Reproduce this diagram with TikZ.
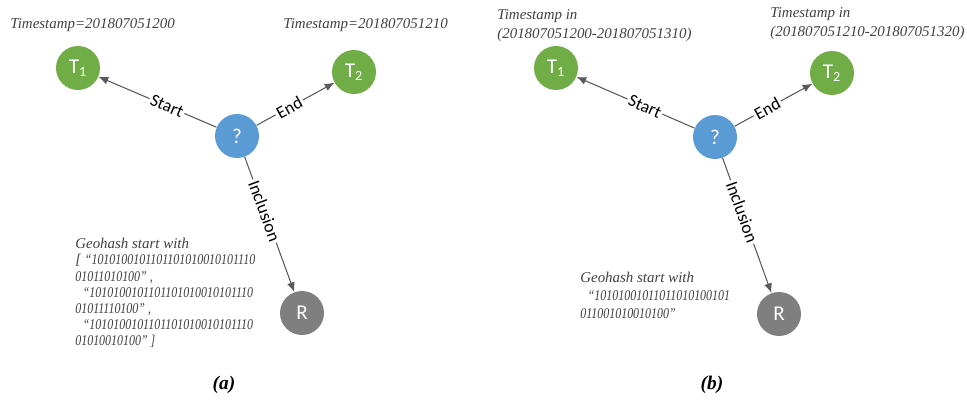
\documentclass[tikz,border=0pt]{standalone}
\usepackage{fontspec}
\setmainfont{Liberation Serif}
\setsansfont{Carlito}
\newfontfamily\narrowserif[FakeStretch=0.8]{Liberation Serif}
\usetikzlibrary{positioning}
\usetikzlibrary{arrows.meta}

\definecolor{nodegreen}{HTML}{70AD47}
\definecolor{nodeblue}{HTML}{5B9BD5}
\definecolor{nodegray}{HTML}{7F7F7F}
\definecolor{edgegray}{HTML}{595959}
\definecolor{notegray}{HTML}{404040}

\begin{document}
\begin{tikzpicture}[x=0.02cm,y=-0.02cm,
    vertex/.style={circle,minimum size=0.88cm,inner sep=0pt,text=white,font=\sffamily\fontsize{12}{12}\selectfont},
    link/.style={draw=edgegray,line width=0.6pt,-{Latex[length=5.5pt,width=4.5pt]}},
    rel/.style={sloped,fill=white,inner sep=1pt,text=black,font=\sffamily\fontsize{10}{10}\selectfont},
    note/.style={inner sep=0pt,align=left,text=notegray,font=\itshape\fontsize{8.5}{9.2}\selectfont},
    caption/.style={font=\bfseries\itshape\fontsize{11}{11}\selectfont}]

  \useasboundingbox (0,0) rectangle (967,399);

  % Panel (a): fixed timestamps
  \node[vertex,fill=nodeblue]  (qa)  at (237,136) {?};
  \node[vertex,fill=nodegreen] (t1a) at (78,68)   {T\textsubscript{1}};
  \node[vertex,fill=nodegreen] (t2a) at (354,72)  {T\textsubscript{2}};
  \node[vertex,fill=nodegray]  (ra)  at (302,313) {R};

  \draw[link] (qa) -- node[rel,pos=0.42] {Start} (t1a);
  \draw[link] (qa) -- node[rel,pos=0.42] {End} (t2a);
  \draw[link] (qa) -- node[rel,pos=0.4] {Inclusion} (ra);

  \node[note,anchor=west] (tsa1) at (10,25)  {Timestamp=201807051200};
  \node[note,anchor=west] (tsa2) at (283,25) {Timestamp=201807051210};
  \node[note,anchor=north west] (gha) at (75,238) {Geohash start with\\
    {[} {\narrowserif “1010100101101101010010101110}\\
    {\narrowserif 01011010100” ,}\\
    \hspace{0.5em}{\narrowserif “1010100101101101010010101110}\\
    {\narrowserif 01011110100” ,}\\
    \hspace{0.5em}{\narrowserif “1010100101101101010010101110}\\
    {\narrowserif 01010010100” {]}}};

  \node[caption] (capa) at (224,385) {(a)};

  % Panel (b): timestamp ranges
  \node[vertex,fill=nodeblue]  (qb)  at (715,137) {?};
  \node[vertex,fill=nodegreen] (t1b) at (556,68)  {T\textsubscript{1}};
  \node[vertex,fill=nodegreen] (t2b) at (832,73)  {T\textsubscript{2}};
  \node[vertex,fill=nodegray]  (rb)  at (779,314) {R};

  \draw[link] (qb) -- node[rel,pos=0.42] {Start} (t1b);
  \draw[link] (qb) -- node[rel,pos=0.42] {End} (t2b);
  \draw[link] (qb) -- node[rel,pos=0.4] {Inclusion} (rb);

  \node[note,anchor=north west,font=\itshape\fontsize{8.5}{10.8}\selectfont] (tsb1) at (497,9)
    {Timestamp in\\(201807051200-201807051310)};
  \node[note,anchor=north west,font=\itshape\fontsize{8.5}{10.8}\selectfont] (tsb2) at (770,7)
    {Timestamp in\\(201807051210-201807051320)};
  \node[note,anchor=north west,font=\itshape\fontsize{8.5}{10.2}\selectfont] (ghb) at (580,272) {Geohash start with\\
    \hspace{0.5em}{\narrowserif “10101001011011010100101}\\
    {\narrowserif 011001010010100”}};

  \node[caption] (capb) at (712,385) {(b)};

\end{tikzpicture}
\end{document}
